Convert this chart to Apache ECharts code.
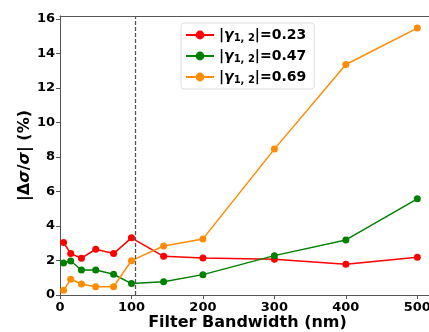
<!DOCTYPE html>
<html><head><meta charset="utf-8">
<script src="https://cdn.jsdelivr.net/npm/echarts@6/dist/echarts.min.js"></script>
<style>html,body{margin:0;padding:0;background:#fff}#c{width:429px;height:332px}</style>
</head><body><div id="c"></div>
<script>
const bandwidths = [5, 15, 30, 50, 75, 100, 145, 200, 300, 400, 500];
const red023 = [3.04, 2.40, 2.13, 2.65, 2.40, 3.31, 2.24, 2.15, 2.07, 1.78, 2.19];
const green047 = [1.86, 1.97, 1.45, 1.45, 1.20, 0.66, 0.77, 1.18, 2.28, 3.19, 5.57];
const orange069 = [0.27, 0.91, 0.64, 0.48, 0.48, 1.99, 2.84, 3.25, 8.45, 13.35, 15.46];
const seriesNames = ['0.23', '0.47', '0.69'];
const xTicks = [0, 100, 200, 300, 400, 500];
const yTicks = [0, 2, 4, 6, 8, 10, 12, 14, 16];
const cutoff = 105;

const font = 'DejaVu Sans';
const chart = echarts.init(document.getElementById('c'));
function mk(name, vals, color, extra) {
  return Object.assign({
    name: name, type: 'line',
    data: bandwidths.map((x, i) => [x, vals[i]]),
    symbol: 'circle', symbolSize: 7,
    lineStyle: { color: color, width: 1.5 },
    itemStyle: { color: color },
    emphasis: { disabled: true }, animation: false, z: 3
  }, extra || {});
}
chart.setOption({
  animation: false,
  grid: { left: 60, right: -6, top: 16, bottom: 37, containLabel: false, outerBoundsMode: 'none' },
  xAxis: [{
    type: 'value', min: 0, max: 524.75,
    name: 'Filter Bandwidth (nm)', nameLocation: 'middle', nameGap: 20, nameMoveOverlap: false,
    nameTextStyle: { fontFamily: font, fontWeight: 'bold', fontSize: 16, color: '#000' },
    axisLine: { show: true, lineStyle: { color: '#555', width: 1 } },
    axisTick: { show: true, length: 4, customValues: xTicks, lineStyle: { color: '#555' } },
    axisLabel: { customValues: xTicks, margin: 6, fontFamily: font, fontWeight: 'bold', fontSize: 13, color: '#000' },
    splitLine: { show: false }
  }, {
    type: 'value', position: 'top', min: 0, max: 524.75,
    axisLine: { show: true, onZero: false, lineStyle: { color: '#555', width: 1 } },
    axisTick: { show: false }, axisLabel: { show: false }, splitLine: { show: false }
  }],
  yAxis: {
    type: 'value', min: 0, max: 16.16,
    name: '|Δ{i|σ}/{i|σ}| (%)', nameLocation: 'middle', nameGap: 27, nameRotate: 90, nameMoveOverlap: false,
    nameTextStyle: { fontFamily: font, fontWeight: 'bold', fontSize: 16, color: '#000',
      rich: { i: { fontFamily: font, fontWeight: 'bold', fontStyle: 'italic', fontSize: 16, color: '#000' } } },
    axisLine: { show: true, lineStyle: { color: '#555', width: 1 } },
    axisTick: { show: true, length: 4, customValues: yTicks, lineStyle: { color: '#555' } },
    axisLabel: { customValues: yTicks, margin: 5, fontFamily: font, fontWeight: 'bold', fontSize: 13, color: '#000' },
    splitLine: { show: false }
  },
  legend: {
    orient: 'vertical', left: 181, top: 23,
    padding: [5, 8, 4, 4],
    itemWidth: 28, itemHeight: 11, itemGap: 6,
    backgroundColor: '#fff', borderColor: '#ddd', borderWidth: 1, borderRadius: 3,
    formatter: function (n) { return '|{g|γ}{s|1, 2}|=' + n; },
    textStyle: { fontFamily: font, fontWeight: 'bold', fontSize: 14, color: '#000',
      rich: {
        g: { fontFamily: font, fontWeight: 'bold', fontStyle: 'italic', fontSize: 14, color: '#000' },
        s: { fontFamily: font, fontWeight: 'bold', fontSize: 10, color: '#000', verticalAlign: 'bottom', padding: [6, 0, 0, 0] }
      } },
    data: seriesNames
  },
  series: [
    mk(seriesNames[0], red023, '#ff0000', {
      markLine: { silent: true, symbol: 'none', label: { show: false },
        lineStyle: { color: '#555', type: [4, 2], width: 1.3 },
        data: [{ xAxis: cutoff }] }
    }),
    mk(seriesNames[1], green047, '#008000'),
    mk(seriesNames[2], orange069, '#ff8c00')
  ]
});
</script></body></html>
